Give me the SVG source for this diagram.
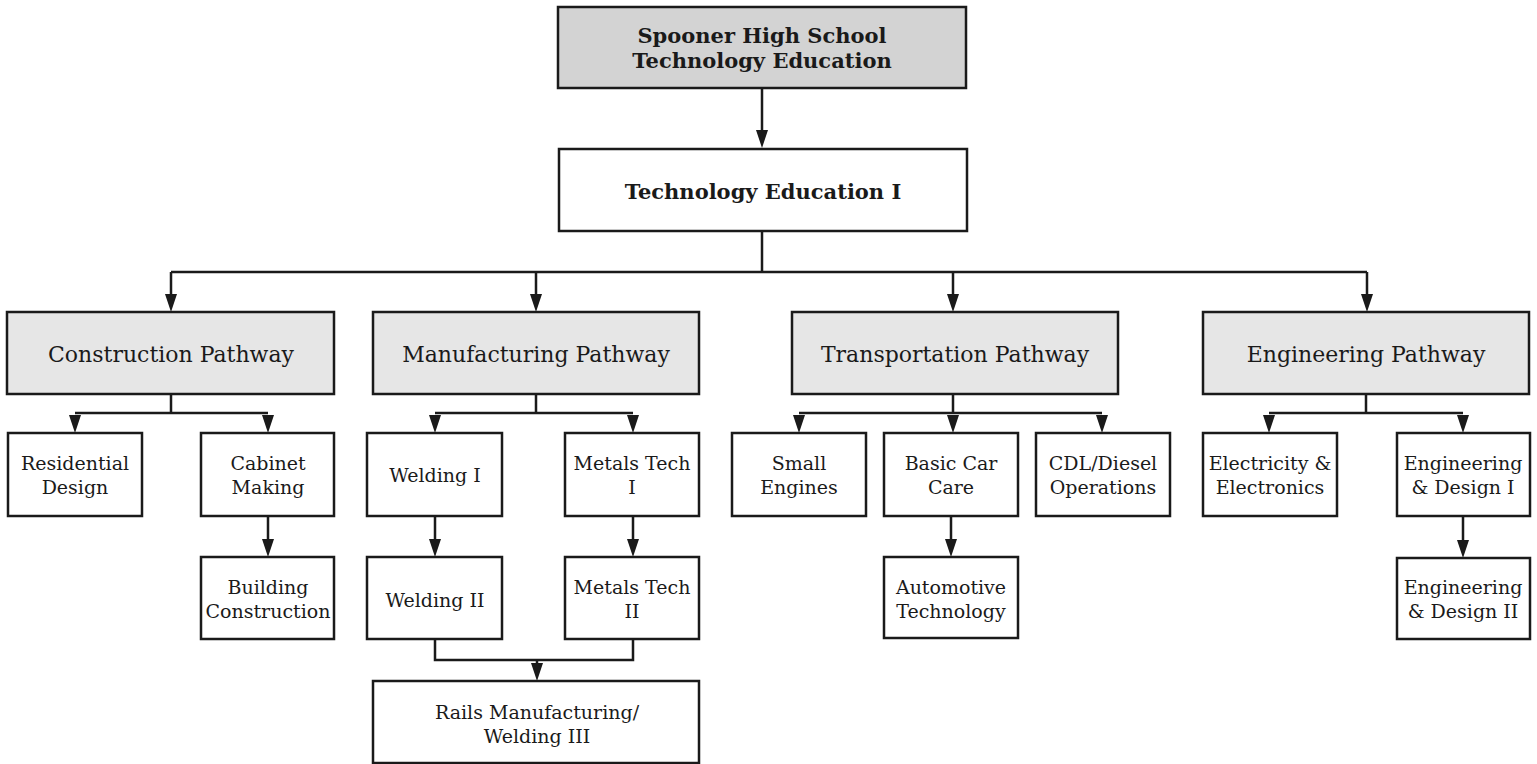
<svg xmlns="http://www.w3.org/2000/svg" width="1537" height="764" viewBox="0 0 1537 764">
<style>
.box{fill:#fff;stroke:#1a1a1a;stroke-width:2.5}
.g1{fill:#d3d3d3}
.g2{fill:#e6e6e6}
text{font-family:"DejaVu Serif","Liberation Serif",serif;fill:#1a1a1a;text-anchor:middle}
.b{font-weight:bold;font-size:21px}
.p{font-size:22px}
.s{font-size:19px}
.c{fill:none;stroke:#1a1a1a;stroke-width:2.5}
.h{fill:#1a1a1a}
</style>
<rect width="1537" height="764" fill="#fff"/>
<g id="connectors">
<path class="c" d="M762,88 V132"/>
<path class="c" d="M762,231 V272"/>
<path class="c" d="M171,272 H1367"/>
<path class="c" d="M171,272 V296 M536,272 V296 M953,272 V296 M1367,272 V296"/>
<path class="c" d="M171,394 V413 M75,413 H268"/>
<path class="c" d="M536,394 V413 M435,413 H633"/>
<path class="c" d="M953,394 V413 M799,413 H1102"/>
<path class="c" d="M1366,394 V413 M1269,413 H1463"/>
<path class="c" d="M268,516 V541 M435,516 V541 M633,516 V541 M951,516 V541 M1463,516 V541"/>
<path class="c" d="M435,639 V660 H633 V639 M537,660 V665"/>
<path class="h" d="M756,130 L768,130 L762,148 Z"/>
<path class="h" d="M165,294 L177,294 L171,312 Z"/>
<path class="h" d="M530,294 L542,294 L536,312 Z"/>
<path class="h" d="M947,294 L959,294 L953,312 Z"/>
<path class="h" d="M1361,294 L1373,294 L1367,312 Z"/>
<path class="h" d="M69,415 L81,415 L75,433 Z"/>
<path class="h" d="M262,415 L274,415 L268,433 Z"/>
<path class="h" d="M429,415 L441,415 L435,433 Z"/>
<path class="h" d="M627,415 L639,415 L633,433 Z"/>
<path class="h" d="M793,415 L805,415 L799,433 Z"/>
<path class="h" d="M947,415 L959,415 L953,433 Z"/>
<path class="h" d="M1096,415 L1108,415 L1102,433 Z"/>
<path class="h" d="M1263,415 L1275,415 L1269,433 Z"/>
<path class="h" d="M1457,415 L1469,415 L1463,433 Z"/>
<path class="h" d="M262,539 L274,539 L268,557 Z"/>
<path class="h" d="M429,539 L441,539 L435,557 Z"/>
<path class="h" d="M627,539 L639,539 L633,557 Z"/>
<path class="h" d="M945,539 L957,539 L951,557 Z"/>
<path class="h" d="M1457,540 L1469,540 L1463,558 Z"/>
<path class="h" d="M531,663 L543,663 L537,681 Z"/>
</g>
<g id="n-root"><rect class="box g1" x="558" y="7" width="408" height="81"/><text class="b" x="762" y="43">Spooner High School</text><text class="b" x="762" y="68">Technology Education</text></g>
<g id="n-tech1"><rect class="box" x="559" y="149" width="408" height="82"/><text class="b" x="763" y="199">Technology Education I</text></g>
<g id="n-construction"><rect class="box g2" x="7" y="312" width="327" height="82"/><text class="p" x="171" y="362">Construction Pathway</text></g>
<g id="n-manufacturing"><rect class="box g2" x="373" y="312" width="326" height="82"/><text class="p" x="536" y="362">Manufacturing Pathway</text></g>
<g id="n-transportation"><rect class="box g2" x="792" y="312" width="326" height="82"/><text class="p" x="955" y="362">Transportation Pathway</text></g>
<g id="n-engineering"><rect class="box g2" x="1203" y="312" width="326" height="82"/><text class="p" x="1366" y="362">Engineering Pathway</text></g>
<g id="n-residential"><rect class="box" x="8" y="433" width="134" height="83"/><text class="s" x="75" y="470">Residential</text><text class="s" x="75" y="494">Design</text></g>
<g id="n-cabinet"><rect class="box" x="201" y="433" width="133" height="83"/><text class="s" x="268" y="470">Cabinet</text><text class="s" x="268" y="494">Making</text></g>
<g id="n-building"><rect class="box" x="201" y="557" width="133" height="82"/><text class="s" x="268" y="594">Building</text><text class="s" x="268" y="618">Construction</text></g>
<g id="n-welding1"><rect class="box" x="367" y="433" width="135" height="83"/><text class="s" x="435" y="482">Welding I</text></g>
<g id="n-metals1"><rect class="box" x="565" y="433" width="134" height="83"/><text class="s" x="632" y="470">Metals Tech</text><text class="s" x="632" y="494">I</text></g>
<g id="n-welding2"><rect class="box" x="367" y="557" width="135" height="82"/><text class="s" x="435" y="607">Welding II</text></g>
<g id="n-metals2"><rect class="box" x="565" y="557" width="134" height="82"/><text class="s" x="632" y="594">Metals Tech</text><text class="s" x="632" y="618">II</text></g>
<g id="n-rails"><rect class="box" x="373" y="681" width="326" height="82"/><text class="s" x="537" y="719">Rails Manufacturing/</text><text class="s" x="537" y="743">Welding III</text></g>
<g id="n-small"><rect class="box" x="732" y="433" width="134" height="83"/><text class="s" x="799" y="470">Small</text><text class="s" x="799" y="494">Engines</text></g>
<g id="n-basic"><rect class="box" x="884" y="433" width="134" height="83"/><text class="s" x="951" y="470">Basic Car</text><text class="s" x="951" y="494">Care</text></g>
<g id="n-cdl"><rect class="box" x="1036" y="433" width="134" height="83"/><text class="s" x="1103" y="470">CDL/Diesel</text><text class="s" x="1103" y="494">Operations</text></g>
<g id="n-automotive"><rect class="box" x="884" y="557" width="134" height="81"/><text class="s" x="951" y="594">Automotive</text><text class="s" x="951" y="618">Technology</text></g>
<g id="n-electricity"><rect class="box" x="1203" y="433" width="134" height="83"/><text class="s" x="1270" y="470">Electricity &amp;</text><text class="s" x="1270" y="494">Electronics</text></g>
<g id="n-eng1"><rect class="box" x="1397" y="433" width="133" height="83"/><text class="s" x="1463" y="470">Engineering</text><text class="s" x="1463" y="494">&amp; Design I</text></g>
<g id="n-eng2"><rect class="box" x="1397" y="558" width="133" height="81"/><text class="s" x="1463" y="594">Engineering</text><text class="s" x="1463" y="618">&amp; Design II</text></g>
</svg>
